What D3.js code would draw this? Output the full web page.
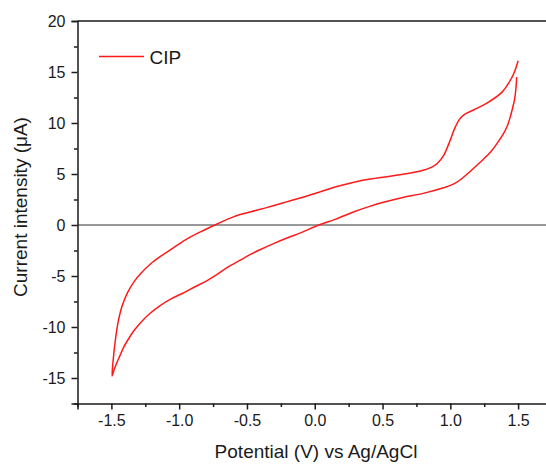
<!DOCTYPE html>
<html>
<head>
<meta charset="utf-8">
<script src="https://cdn.jsdelivr.net/npm/d3@7"></script>
<style>
  html, body { margin: 0; padding: 0; background: #fff; overflow: hidden; }
  svg { display: block; }
  text { font-family: Arial, "Liberation Sans", sans-serif; fill: #1a1a1a; }
</style>
</head>
<body>
<script>
// Scan sequence: cathodic sweep (1.5 V -> -1.5 V) then anodic sweep (-1.5 V -> 1.5 V)
const potential = [
  1.49, 1.484, 1.475, 1.46, 1.44, 1.42, 1.39, 1.35, 1.3, 1.224, 1.15, 1.08, 1.03, 0.95, 0.8, 0.65, 0.5, 0.4, 0.3, 0.15, 0.03,
  -0.1, -0.2, -0.3, -0.4, -0.47, -0.55, -0.65, -0.72, -0.8, -0.89, -0.96, -1.06, -1.14, -1.21, -1.28, -1.33, -1.38, -1.41, -1.44, -1.46, -1.48, -1.495,
  -1.485, -1.47, -1.45, -1.42, -1.38, -1.33, -1.28, -1.21, -1.14, -1.06, -0.96, -0.84, -0.72, -0.6, -0.47, -0.35, -0.23, -0.1, 0.02,
  0.17, 0.29, 0.41, 0.54, 0.66, 0.78, 0.86, 0.905, 0.95, 0.99, 1.03, 1.065, 1.1, 1.175, 1.27, 1.38, 1.43, 1.47, 1.5
];
const current = [
  14.5, 13.4, 12.4, 11.5, 10.5, 9.7, 8.9, 8.1, 7.2, 6.2, 5.3, 4.5, 4.05, 3.65, 3.1, 2.7, 2.2, 1.8, 1.35, 0.55, 0.0,
  -0.75, -1.25, -1.8, -2.4, -2.85, -3.45, -4.2, -4.85, -5.5, -6.1, -6.6, -7.25, -7.9, -8.6, -9.5, -10.3, -11.3, -12.0, -12.9, -13.5, -14.2, -14.8,
  -13.0, -11.2, -9.5, -7.9, -6.6, -5.5, -4.7, -3.8, -3.1, -2.4, -1.5, -0.65, 0.1, 0.8, 1.3, 1.73, 2.19, 2.68, 3.17,
  3.8, 4.2, 4.5, 4.75, 5.0, 5.3, 5.65, 6.05, 6.8, 8.0, 9.4, 10.3, 10.8, 11.3, 11.95, 13.0, 13.9, 14.9, 16.1
];
const seriesName = "CIP";
const xMajorTicks = [-1.5, -1.0, -0.5, 0.0, 0.5, 1.0, 1.5];
const xMinorTicks = [-1.75, -1.25, -0.75, -0.25, 0.25, 0.75, 1.25, 1.75];
const yMajorTicks = [-15, -10, -5, 0, 5, 10, 15, 20];
const yMinorTicks = [-17.5, -12.5, -7.5, -2.5, 2.5, 7.5, 12.5, 17.5];
const xTitle = "Potential (V) vs Ag/AgCl";
const yTitle = "Current intensity (\u03bcA)";

const W = 546, H = 464;
const L = 77.5, R = 552, T = 21, B = 403.5;

const svg = d3.select("body").append("svg").attr("width", W).attr("height", H);

const x = d3.scaleLinear().domain([-1.75, 1.75]).range([L, R]);
const y = d3.scaleLinear().domain([-17.5, 20]).range([B, T]);

const data = potential.map((v, i) => [v, current[i]]);

// zero line
svg.append("line")
  .attr("x1", L).attr("x2", R)
  .attr("y1", y(0)).attr("y2", y(0))
  .attr("stroke", "#333").attr("stroke-width", 1);

// curve
svg.append("path")
  .datum(data)
  .attr("fill", "none")
  .attr("stroke", "#ff1a1a")
  .attr("stroke-width", 1.5)
  .attr("stroke-linejoin", "round")
  .attr("d", d3.line().x(d => x(d[0])).y(d => y(d[1])).curve(d3.curveCatmullRom.alpha(0.5)));

// frame top
svg.append("line").attr("x1", L).attr("x2", R).attr("y1", T).attr("y2", T)
  .attr("stroke", "#1a1a1a").attr("stroke-width", 1.5);

// axes
const hy = s => s.replace("\u2212", "-");
const fx = d3.format(".1f"), fy = d3.format("d");
const xAxis = svg.append("g").attr("transform", `translate(0,${B})`)
  .call(d3.axisBottom(x).tickValues(xMajorTicks).tickFormat(d => hy(fx(d))).tickSize(6).tickPadding(5));
const xMinor = svg.append("g").attr("transform", `translate(0,${B})`)
  .call(d3.axisBottom(x).tickValues(xMinorTicks).tickFormat("").tickSize(3.5));
const yAxis = svg.append("g").attr("transform", `translate(${L},0)`)
  .call(d3.axisLeft(y).tickValues(yMajorTicks).tickFormat(d => hy(fy(d))).tickSize(6).tickPadding(6));
const yMinor = svg.append("g").attr("transform", `translate(${L},0)`)
  .call(d3.axisLeft(y).tickValues(yMinorTicks).tickFormat("").tickSize(3.5));

[xAxis, xMinor, yAxis, yMinor].forEach(g => {
  g.selectAll(".domain").attr("stroke", "#1a1a1a").attr("stroke-width", 1.5);
  g.selectAll(".tick line").attr("stroke", "#1a1a1a").attr("stroke-width", 1.5);
  g.selectAll("text").attr("font-size", 16).attr("font-family", "Arial, 'Liberation Sans', sans-serif").attr("fill", "#1a1a1a");
});
xMinor.select(".domain").remove();
yMinor.select(".domain").remove();

// axis titles
svg.append("text")
  .attr("x", 316).attr("y", 458)
  .attr("text-anchor", "middle")
  .attr("font-size", 19)
  .text(xTitle);

svg.append("text")
  .attr("transform", `translate(27,207) rotate(-90)`)
  .attr("text-anchor", "middle")
  .attr("font-size", 19)
  .text(yTitle);

// legend
svg.append("line")
  .attr("x1", 99).attr("x2", 144).attr("y1", 56.5).attr("y2", 56.5)
  .attr("stroke", "#ff1a1a").attr("stroke-width", 1.5);
svg.append("text")
  .attr("x", 149.5).attr("y", 63.5)
  .attr("font-size", 19)
  .text(seriesName);
</script>
</body>
</html>
